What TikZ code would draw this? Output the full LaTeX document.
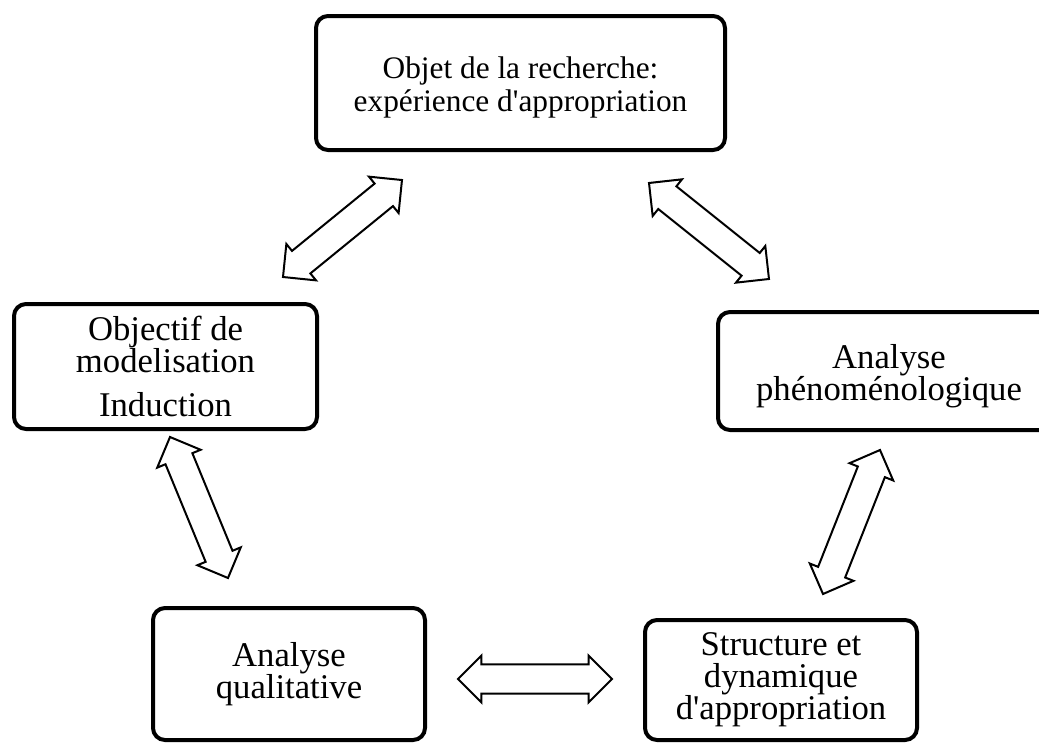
\documentclass[tikz,border=0pt]{standalone}
\usepackage{fontspec}
\setmainfont{Liberation Serif}
\usetikzlibrary{calc}

% block double arrow geometry
\newcommand\tipL{17.6pt}
\newcommand\tipH{17.6pt}
\newcommand\shaftW{10.9pt}

% hollow two-way block arrow between two named points
\newcommand\twowayarrow[2]{%
  \draw[blockarrow] let \p1=(#1), \p2=(#2),
      \n1={atan2(\y2-\y1,\x2-\x1)}, \n2={veclen(\x2-\x1,\y2-\y1)} in
    [shift={(\p1)}, rotate=\n1]
    (0pt,0pt) -- (\tipL,\tipH) -- (\tipL,\shaftW) -- ({\n2-\tipL},\shaftW)
    -- ({\n2-\tipL},\tipH) -- (\n2,0pt) -- ({\n2-\tipL},-\tipH)
    -- ({\n2-\tipL},-\shaftW) -- (\tipL,-\shaftW) -- (\tipL,-\tipH) -- cycle;}

\tikzset{
  stage/.style={draw, line width=3pt, rounded corners=9pt, align=center,
    inner sep=0pt, font=\fontsize{26pt}{24pt}\selectfont},
  blockarrow/.style={line width=1.5pt, line join=miter, fill=white},
}

\begin{document}
\begin{tikzpicture}[x=0.75pt, y=-0.75pt]
  \useasboundingbox (0,0) rectangle (1039,743);
  \clip (0,0) rectangle (1039,743);

  % stages
  \node[stage, minimum width=306.75pt, minimum height=100.5pt,
        font=\fontsize{23.5pt}{24.5pt}\selectfont] (objet) at (520.5,83)
    {\rule{0pt}{22.5pt}Objet de la recherche:\\expérience d\textquotesingle appropriation};
  \node[stage, minimum width=227.25pt, minimum height=93.75pt] (objectif) at (165.5,366.5)
    {Objectif de\\modelisation\\[9pt]Induction};
  \node[stage, minimum width=256.5pt, minimum height=88.5pt] (pheno) at (889,371)
    {\rule{0pt}{25.5pt}Analyse\\phénoménologique};
  \node[stage, minimum width=204pt, minimum height=99pt] (quali) at (289,674)
    {Analyse\\qualitative};
  \node[stage, minimum width=204pt, minimum height=90pt] (struct) at (781,680)
    {Structure et\\dynamique\\d\textquotesingle appropriation};

  % arrow end points
  \coordinate (a1s) at (283,277);  \coordinate (a1e) at (402,180);
  \coordinate (a2s) at (649,183);  \coordinate (a2e) at (769,279);
  \coordinate (a3s) at (170,437);  \coordinate (a3e) at (228,578);
  \coordinate (a4s) at (458,679);  \coordinate (a4e) at (612,679);
  \coordinate (a5s) at (880,450);  \coordinate (a5e) at (823,594);

  \twowayarrow{a1s}{a1e}
  \twowayarrow{a2s}{a2e}
  \twowayarrow{a3s}{a3e}
  \twowayarrow{a4s}{a4e}
  \twowayarrow{a5s}{a5e}
\end{tikzpicture}
\end{document}
